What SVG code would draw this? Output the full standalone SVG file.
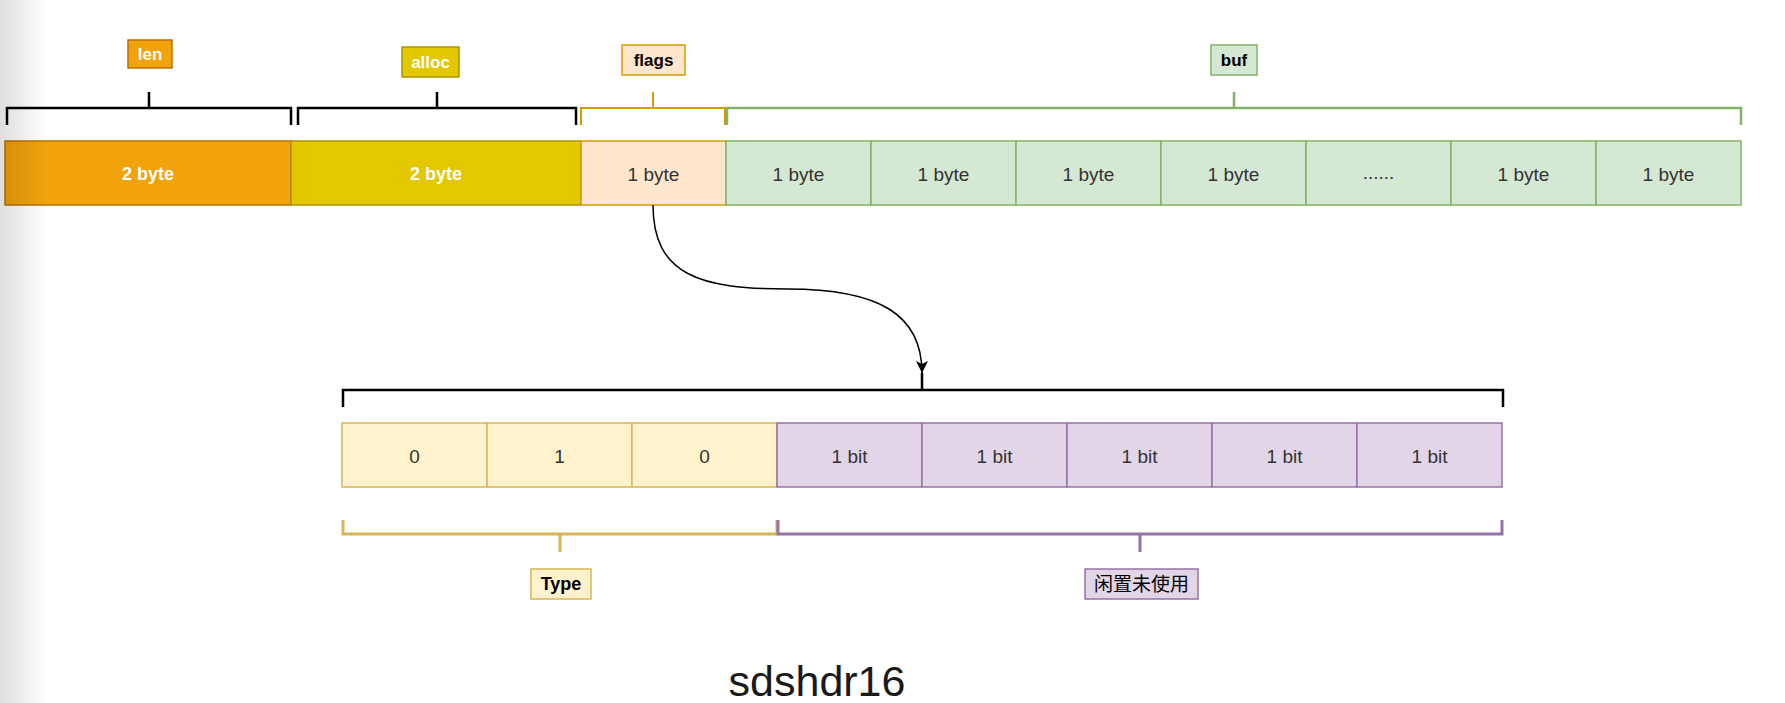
<svg xmlns="http://www.w3.org/2000/svg" width="1785" height="703" viewBox="0 0 1785 703">
<style>
.t{font-family:"Liberation Sans",Arial,"Noto Sans CJK SC",sans-serif;text-anchor:middle;dominant-baseline:central}
.reg{font-size:19px;fill:#333333}
.bw{font-size:18px;font-weight:bold;fill:#ffffff}
.lb{font-size:17px;font-weight:bold;fill:#000000}
.br{fill:none;stroke-linejoin:miter;stroke-linecap:butt}
.len{fill:#f0a30a;stroke:#bd7000;stroke-width:1.5}
.alloc{fill:#e3c800;stroke:#b09500;stroke-width:1.5}
.flags{fill:#ffe6cc;stroke:#d79b00;stroke-width:1.5}
.buf{fill:#d5e8d4;stroke:#82b366;stroke-width:1.5}
.typ{fill:#fff2cc;stroke:#d6b656;stroke-width:1.5}
.bit{fill:#e1d5e7;stroke:#9673a6;stroke-width:1.5}
</style>
<defs>
<marker id="arr" viewBox="0 0 12 12" refX="12" refY="6" markerWidth="12" markerHeight="12" markerUnits="userSpaceOnUse" orient="auto">
<path d="M0,0 L12,6 L0,12 L3,6 z" fill="#000000"/>
</marker>
<linearGradient id="shade" x1="0" y1="0" x2="1" y2="0">
<stop offset="0" stop-color="#000000" stop-opacity="0.13"/>
<stop offset="1" stop-color="#000000" stop-opacity="0"/>
</linearGradient>
</defs>
<rect x="0" y="0" width="1785" height="703" fill="#ffffff"/>

<!-- top row -->
<g id="len-cell"><rect class="len" x="5" y="141" width="286" height="64"/><text class="t bw" x="148" y="174">2 byte</text></g>
<g id="alloc-cell"><rect class="alloc" x="291" y="141" width="290" height="64"/><text class="t bw" x="436" y="174">2 byte</text></g>
<g id="flags-cell"><rect class="flags" x="581" y="141" width="145" height="64"/><text class="t reg" x="653.5" y="174">1 byte</text></g>
<g id="buf-cell-1"><rect class="buf" x="726" y="141" width="145" height="64"/><text class="t reg" x="798.5" y="174">1 byte</text></g>
<g id="buf-cell-2"><rect class="buf" x="871" y="141" width="145" height="64"/><text class="t reg" x="943.5" y="174">1 byte</text></g>
<g id="buf-cell-3"><rect class="buf" x="1016" y="141" width="145" height="64"/><text class="t reg" x="1088.5" y="174">1 byte</text></g>
<g id="buf-cell-4"><rect class="buf" x="1161" y="141" width="145" height="64"/><text class="t reg" x="1233.5" y="174">1 byte</text></g>
<g id="buf-cell-5"><rect class="buf" x="1306" y="141" width="145" height="64"/><text class="t reg" x="1378.5" y="172">......</text></g>
<g id="buf-cell-6"><rect class="buf" x="1451" y="141" width="145" height="64"/><text class="t reg" x="1523.5" y="174">1 byte</text></g>
<g id="buf-cell-7"><rect class="buf" x="1596" y="141" width="145" height="64"/><text class="t reg" x="1668.5" y="174">1 byte</text></g>

<!-- top braces -->
<g id="len-brace"><path class="br" stroke="#000000" stroke-width="2.5" d="M7,125 V108 H291 V125 M149,108 V92"/></g>
<g id="alloc-brace"><path class="br" stroke="#000000" stroke-width="2.5" d="M298,125 V108 H576 V125 M437,108 V92"/></g>
<g id="flags-brace"><path class="br" stroke="#d79b00" stroke-width="2" d="M581,125 V108 H725 V125 M653,108 V92"/></g>
<g id="buf-brace"><path class="br" stroke="#82b366" stroke-width="2.5" d="M727,125 V108 H1741 V125 M1234,108 V92"/></g>

<!-- top labels -->
<g id="len-label"><rect x="128" y="40" width="44" height="28" fill="#f0a30a" stroke="#bd7000" stroke-width="1.5"/><text class="t lb" x="150" y="54" fill="#ffffff" style="fill:#ffffff">len</text></g>
<g id="alloc-label"><rect x="402" y="47" width="57" height="30" fill="#e3c800" stroke="#b09500" stroke-width="1.5"/><text class="t lb" x="430.5" y="62" style="fill:#ffffff">alloc</text></g>
<g id="flags-label"><rect x="622" y="45" width="63" height="30" fill="#ffe6cc" stroke="#d79b00" stroke-width="1.5"/><text class="t lb" x="653.5" y="60">flags</text></g>
<g id="buf-label"><rect x="1211" y="45" width="46" height="30" fill="#d5e8d4" stroke="#82b366" stroke-width="1.5"/><text class="t lb" x="1234" y="60">buf</text></g>

<!-- bottom brace -->
<g id="bits-brace"><path class="br" stroke="#000000" stroke-width="2.5" d="M343,407 V390 H1503 V407 M922,390 V373"/></g>

<!-- bottom row -->
<g id="bit-0"><rect class="typ" x="342" y="423" width="145" height="64"/><text class="t reg" x="414.5" y="456">0</text></g>
<g id="bit-1"><rect class="typ" x="487" y="423" width="145" height="64"/><text class="t reg" x="559.5" y="456">1</text></g>
<g id="bit-2"><rect class="typ" x="632" y="423" width="145" height="64"/><text class="t reg" x="704.5" y="456">0</text></g>
<g id="bit-3"><rect class="bit" x="777" y="423" width="145" height="64"/><text class="t reg" x="849.5" y="456">1 bit</text></g>
<g id="bit-4"><rect class="bit" x="922" y="423" width="145" height="64"/><text class="t reg" x="994.5" y="456">1 bit</text></g>
<g id="bit-5"><rect class="bit" x="1067" y="423" width="145" height="64"/><text class="t reg" x="1139.5" y="456">1 bit</text></g>
<g id="bit-6"><rect class="bit" x="1212" y="423" width="145" height="64"/><text class="t reg" x="1284.5" y="456">1 bit</text></g>
<g id="bit-7"><rect class="bit" x="1357" y="423" width="145" height="64"/><text class="t reg" x="1429.5" y="456">1 bit</text></g>

<!-- lower braces -->
<g id="type-brace"><path class="br" stroke="#d6b656" stroke-width="3" d="M343,520 V534 H777 V520 M560,534 V552"/></g>
<g id="unused-brace"><path class="br" stroke="#9673a6" stroke-width="3" d="M778,520 V534 H1502 V520 M1140,534 V552"/></g>

<!-- lower labels -->
<g id="type-label"><rect x="531" y="569" width="60" height="30" fill="#fff2cc" stroke="#d6b656" stroke-width="1.5"/><text class="t" x="561" y="584" style="font-size:18px;font-weight:bold;fill:#000000">Type</text></g>
<g id="unused-label"><rect x="1085" y="569" width="113" height="30" fill="#e1d5e7" stroke="#9673a6" stroke-width="1.5"/><text class="t" x="1141.5" y="584" style="font-size:19px;fill:#000000">闲置未使用</text></g>

<!-- connectors -->
<g id="connectors">
<path d="M653,205 C653,275 700,289 787,289 C880,289 922,315 922,373" fill="none" stroke="#000000" stroke-width="1.5" marker-end="url(#arr)"/>
</g>

<!-- title -->
<g id="title"><text x="817" y="696" style="font-family:'Liberation Sans',Arial,sans-serif;font-size:43px;fill:#1a1a1a;text-anchor:middle">sdshdr16</text></g>

<rect x="0" y="0" width="46" height="703" fill="url(#shade)"/>
</svg>
